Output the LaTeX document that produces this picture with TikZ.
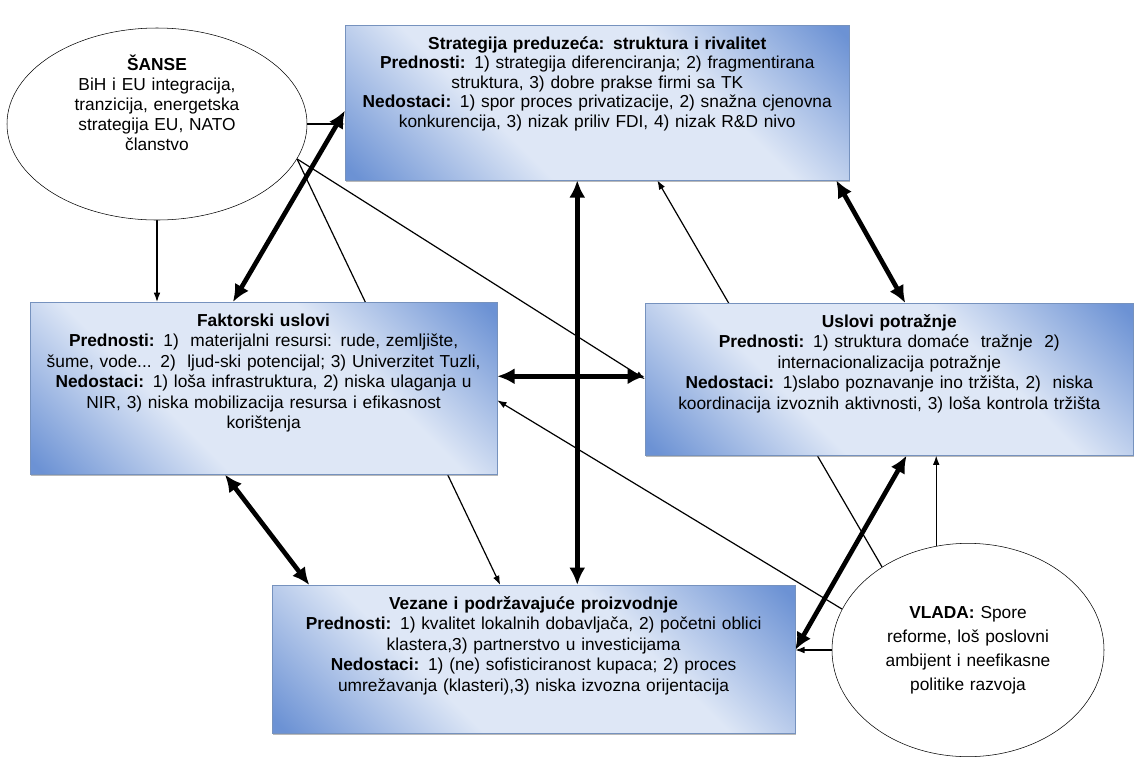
\documentclass[tikz,border=0pt]{standalone}
\usepackage{fontspec}
\setmainfont{Liberation Sans}
\usetikzlibrary{arrows.meta,shapes.geometric,shadows,backgrounds}
\definecolor{boxmid}{RGB}{222,231,246}
\definecolor{boxdark}{RGB}{108,146,212}
\definecolor{boxline}{RGB}{118,146,190}
\pgfdeclarehorizontalshading{boxglow}{100bp}{color(0bp)=(boxdark); color(16bp)=(boxdark);
  color(37bp)=(boxmid); color(63bp)=(boxmid); color(84bp)=(boxdark); color(100bp)=(boxdark)}

\begin{document}
\begin{tikzpicture}[x=0.75pt,y=-0.75pt,
  font=\fontsize{13}{15.4}\selectfont,
  box/.style={rectangle, draw=boxline, shade, shading=boxglow, shading angle=45,
    drop shadow={shadow xshift=0.5pt,shadow yshift=-1.5pt,fill=black!55},
    anchor=north west, align=center, inner xsep=2pt, inner ysep=6pt, text height=12pt},
  oval/.style={ellipse, draw, fill=white, align=center, inner sep=0pt},
  arr/.style={-{Latex[length=7pt,width=5pt]}, line width=0.9pt},
  dbl/.style={{Latex[length=13pt,width=12pt]}-{Latex[length=13pt,width=12pt]}, line width=3.5pt}]
  \useasboundingbox (0,0) rectangle (1139,758);

  \node[oval, minimum width=225pt, minimum height=144pt, text width=150pt, text height=8pt, text depth=88pt,
    font=\fontsize{13}{15}\selectfont] (0) at (157,124)
    {\textbf{ŠANSE}\\ BiH i EU integracija,\\ tranzicija, energetska\\ strategija EU, NATO\\ članstvo};

  \node[box, text width=374pt, text depth=92pt, font=\fontsize{13}{14.6}\selectfont] (1) at (345,25)
    {\textbf{Strategija preduzeća: struktura i rivalitet}\\
     \textbf{Prednosti:} 1) strategija diferenciranja; 2) fragmentirana\\
     struktura, 3) dobre prakse firmi sa TK\\
     \textbf{Nedostaci:} 1) spor proces privatizacije, 2) snažna cjenovna\\
     konkurencija, 3) nizak priliv FDI, 4) nizak R\&D nivo};

  \node[box, text width=346pt, text depth=105pt] (2) at (30,302)
    {\textbf{Faktorski uslovi}\\
     \textbf{Prednosti:} 1)\ \ materijalni resursi: rude, zemljište,\\
     šume, vode... 2)\ \ ljud-ski potencijal; 3) Univerzitet Tuzli,\\
     \textbf{Nedostaci:} 1) loša infrastruktura, 2) niska ulaganja u\\
     NIR, 3) niska mobilizacija resursa i efikasnost\\
     korištenja};

  \node[box, text width=362pt, text depth=90pt] (3) at (645,303)
    {\textbf{Uslovi potražnje}\\
     \textbf{Prednosti:} 1) struktura domaće\ \ tražnje\ \ 2)\\
     internacionalizacija potražnje\\
     \textbf{Nedostaci:} 1)slabo poznavanje ino tržišta, 2)\ \ niska\\
     koordinacija izvoznih aktivnosti, 3) loša kontrola tržišta};

  \node[box, text width=388pt, text depth=87pt] (4) at (272,585)
    {\textbf{Vezane i podržavajuće proizvodnje}\\
     \textbf{Prednosti:} 1) kvalitet lokalnih dobavljača, 2) početni oblici\\
     klastera,3) partnerstvo u investicijama\\
     \textbf{Nedostaci:} 1) (ne) sofisticiranost kupaca; 2) proces\\
     umrežavanja (klasteri),3) niska izvozna orijentacija};

  \node[oval, minimum width=204pt, minimum height=160pt, text width=140pt,
    font=\fontsize{13}{18}\selectfont] (5) at (968,650)
    {\textbf{VLADA:} Spore\\ reforme, loš poslovni\\ ambijent i neefikasne\\ politike razvoja};

  \begin{scope}[on background layer]
    \draw[arr] (0.south) -- (0.south |- 2.north);
    \draw[arr] (0.east) -- (0.east -| 1.west);
    \draw[arr] (0.-14) -- ([xshift=-25pt]4.north);
    \draw[arr] (0.-14) -- (3.west);
    \draw[arr] (5.136) -- ([xshift=45pt]1.south);
    \draw[arr] (5.162) -- ([yshift=-9pt]2.east);
    \draw[arr] (5.107) -- (5.107 |- 3.south);
    \draw[arr] (5.west) -- (5.west -| 4.east);

    \draw[dbl] ([yshift=-6pt]1.west) -- ([xshift=-23pt]2.north);
    \draw[dbl] ([xshift=-15pt]1.south) -- ([xshift=-15pt]1.south |- 4.north);
    \draw[dbl] ([yshift=9pt]2.east) -- ([yshift=9pt]2.east -| 3.west);
    \draw[dbl] ([xshift=-10pt]1.south east) -- ([xshift=12pt]3.north);
    \draw[dbl] ([xshift=-29pt]2.south) -- ([xshift=28pt]4.north west);
    \draw[dbl] ([xshift=13pt]3.south) -- ([yshift=7pt]4.east);
  \end{scope}
\end{tikzpicture}
\end{document}
